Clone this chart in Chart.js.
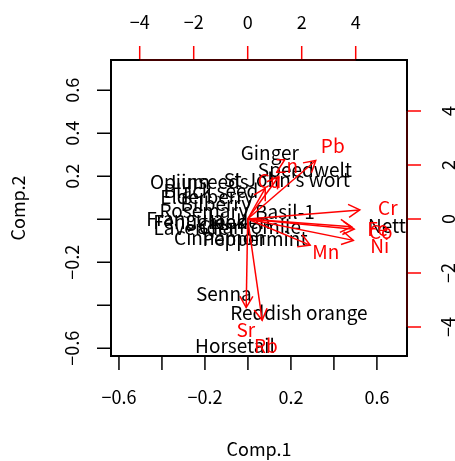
<!DOCTYPE html>
<html>
<head>
<meta charset="utf-8">
<script src="https://cdn.jsdelivr.net/npm/chart.js@4.4.1/dist/chart.umd.min.js"></script>
<style>
  html, body { margin: 0; padding: 0; background: #fff; }
</style>
</head>
<body>
<canvas id="biplot" width="455" height="461"></canvas>
<script>
// herbal samples: scores on the first two components
const herbNames = ['Ginger', 'Speedwelt', "St John's wort", 'Opium', 'Linseeds', 'Black seed', 'Elderberry',
  'Bilberry', 'Rosemary', 'Basil-1', 'Frangula', 'Fenugreek', 'Lavender', 'Linden', 'Chamomile',
  'Cinnamon', 'Peppermint', 'Nettle', 'Senna', 'Reddish orange', 'Horsetail']
const herbComp1 = [0.102, 0.265, 0.181, -0.316, -0.177, -0.172, -0.190,
  -0.149, -0.205, 0.172, -0.293, -0.223, -0.247, -0.037, 0.009,
  -0.130, 0.033, 0.684, -0.112, 0.237, -0.060]
const herbComp2 = [0.308, 0.229, 0.183, 0.174, 0.174, 0.132, 0.104,
  0.071, 0.039, 0.034, 0.001, -0.013, -0.041, -0.013, -0.036,
  -0.087, -0.091, -0.031, -0.347, -0.436, -0.589]

// element loadings (top / right scale)
const elementNames = ['Pb', 'Zn', 'Cu', 'Cr', 'Fe', 'Co', 'Ni', 'Mn', 'Sr', 'Rb']
const loadComp1 = [3.15, 1.44, 0.81, 5.19, 4.81, 4.93, 4.89, 2.89, -0.07, 0.67]
const loadComp2 = [2.71, 1.97, 1.42, 0.42, -0.36, -0.47, -0.99, -1.21, -4.10, -4.69]

const scoreTicks = [-0.6, -0.4, -0.2, 0, 0.2, 0.4, 0.6]
const comp1TickLabels = ['-0.6', '', '-0.2', '', '0.2', '', '0.6']
const comp2TickLabels = ['-0.6', '', '-0.2', '', '0.2', '0.4', '0.6']
const loadTicks = [-4, -2, 0, 2, 4]
const loadTickLabels = ['-4', '-2', '0', '2', '4']

const AXIS_FONT = '18px "Noto Sans CJK JP", "DejaVu Sans", sans-serif'
const TEXT_FONT = '19px "Noto Sans CJK JP", "DejaVu Sans", sans-serif'
const RED = '#ff0000'
const minus = s => s.replace('-', '\u2212')

const herbData = herbNames.map((n, i) => ({ x: herbComp1[i], y: herbComp2[i] }))
const labelData = elementNames.map((n, i) => ({ x: loadComp1[i], y: loadComp2[i] }))
// arrows stop at 80% of the label position, as biplot() does
const arrowSets = elementNames.map((n, i) => ({
  data: [{ x: 0, y: 0 }, { x: loadComp1[i] * 0.8, y: loadComp2[i] * 0.8 }],
  xAxisID: 'x2', yAxisID: 'y2',
  showLine: true, borderColor: RED, borderWidth: 1.5,
  pointRadius: 0, pointHoverRadius: 0
}))

function clipArea(ctx, a) {
  ctx.beginPath()
  ctx.rect(a.left, a.top, a.right - a.left, a.bottom - a.top)
  ctx.clip()
}

const biplotPainter = {
  id: 'biplotPainter',
  beforeDatasetsDraw(chart) {
    const ctx = chart.ctx
    const pts = chart.getDatasetMeta(0).data
    ctx.save()
    clipArea(ctx, chart.chartArea)
    ctx.font = TEXT_FONT
    ctx.fillStyle = '#000'
    ctx.textAlign = 'center'
    ctx.textBaseline = 'middle'
    pts.forEach((p, i) => ctx.fillText(herbNames[i], p.x, p.y))
    ctx.restore()
  },
  afterDatasetsDraw(chart) {
    const ctx = chart.ctx
    ctx.save()
    clipArea(ctx, chart.chartArea)
    ctx.strokeStyle = RED
    ctx.lineWidth = 1.5
    // arrow heads
    elementNames.forEach((n, i) => {
      const seg = chart.getDatasetMeta(2 + i).data
      const a = seg[0], b = seg[1]
      const ang = Math.atan2(b.y - a.y, b.x - a.x)
      const len = 13, spread = Math.PI / 6
      ctx.beginPath()
      ctx.moveTo(b.x - len * Math.cos(ang - spread), b.y - len * Math.sin(ang - spread))
      ctx.lineTo(b.x, b.y)
      ctx.lineTo(b.x - len * Math.cos(ang + spread), b.y - len * Math.sin(ang + spread))
      ctx.stroke()
    })
    ctx.font = TEXT_FONT
    ctx.fillStyle = RED
    ctx.textAlign = 'center'
    ctx.textBaseline = 'middle'
    chart.getDatasetMeta(1).data.forEach((p, i) => ctx.fillText(elementNames[i], p.x, p.y))
    ctx.restore()
  },
  afterDraw(chart) {
    const ctx = chart.ctx
    const a = chart.chartArea
    const s = chart.scales
    ctx.save()
    ctx.font = AXIS_FONT
    ctx.fillStyle = '#000'
    ctx.textAlign = 'center'
    ctx.textBaseline = 'middle'

    const vText = (t, x, y) => {
      ctx.save()
      ctx.translate(x, y)
      ctx.rotate(-Math.PI / 2)
      ctx.fillText(t, 0, 0)
      ctx.restore()
    }

    // bottom axis
    ctx.strokeStyle = '#000'
    ctx.lineWidth = 1.5
    let px = scoreTicks.map(v => s.x.getPixelForValue(v))
    ctx.beginPath()
    ctx.moveTo(px[0], a.bottom); ctx.lineTo(px[px.length - 1], a.bottom)
    px.forEach(x => { ctx.moveTo(x, a.bottom); ctx.lineTo(x, a.bottom + 14) })
    ctx.stroke()
    px.forEach((x, i) => { if (comp1TickLabels[i]) ctx.fillText(minus(comp1TickLabels[i]), x, a.bottom + 41) })

    // left axis
    let py = scoreTicks.map(v => s.y.getPixelForValue(v))
    ctx.beginPath()
    ctx.moveTo(a.left, py[0]); ctx.lineTo(a.left, py[py.length - 1])
    py.forEach(y => { ctx.moveTo(a.left, y); ctx.lineTo(a.left - 14, y) })
    ctx.stroke()
    py.forEach((y, i) => { if (comp2TickLabels[i]) vText(minus(comp2TickLabels[i]), a.left - 39, y) })

    // plot box
    ctx.lineWidth = 2
    ctx.strokeRect(a.left, a.top, a.right - a.left, a.bottom - a.top)

    // top and right axes for the loadings
    ctx.lineWidth = 1.5
    px = loadTicks.map(v => s.x2.getPixelForValue(v))
    ctx.strokeStyle = '#5a0000'
    ctx.beginPath()
    ctx.moveTo(px[0], a.top); ctx.lineTo(px[px.length - 1], a.top)
    ctx.stroke()
    ctx.strokeStyle = RED
    ctx.beginPath()
    px.forEach(x => { ctx.moveTo(x, a.top - 1); ctx.lineTo(x, a.top - 14) })
    ctx.stroke()
    px.forEach((x, i) => ctx.fillText(minus(loadTickLabels[i]), x, a.top - 38))

    py = loadTicks.map(v => s.y2.getPixelForValue(v))
    ctx.strokeStyle = '#5a0000'
    ctx.beginPath()
    ctx.moveTo(a.right, py[0]); ctx.lineTo(a.right, py[py.length - 1])
    ctx.stroke()
    ctx.strokeStyle = RED
    ctx.beginPath()
    py.forEach(y => { ctx.moveTo(a.right + 1, y); ctx.lineTo(a.right + 14, y) })
    ctx.stroke()
    py.forEach((y, i) => vText(minus(loadTickLabels[i]), a.right + 41, y))

    // axis titles
    ctx.fillText('Comp.1', (a.left + a.right) / 2, a.bottom + 93)
    vText('Comp.2', 18, (a.top + a.bottom) / 2)
    ctx.restore()
  }
}

new Chart(document.getElementById('biplot'), {
  type: 'scatter',
  data: {
    datasets: [
      { data: herbData, pointRadius: 0, pointHoverRadius: 0 },
      { data: labelData, xAxisID: 'x2', yAxisID: 'y2', pointRadius: 0, pointHoverRadius: 0 },
      ...arrowSets
    ]
  },
  options: {
    responsive: false,
    animation: false,
    devicePixelRatio: 1,
    layout: { padding: { left: 111, top: 60, right: 48, bottom: 105 } },
    plugins: { legend: { display: false }, tooltip: { enabled: false } },
    scales: {
      x: { type: 'linear', min: -0.637, max: 0.740, display: false },
      y: { type: 'linear', min: -0.636, max: 0.741, display: false },
      x2: { type: 'linear', position: 'top', min: -5.063, max: 5.9, display: false },
      y2: { type: 'linear', position: 'right', min: -5.074, max: 5.889, display: false }
    }
  },
  plugins: [biplotPainter]
})
</script>
</body>
</html>
